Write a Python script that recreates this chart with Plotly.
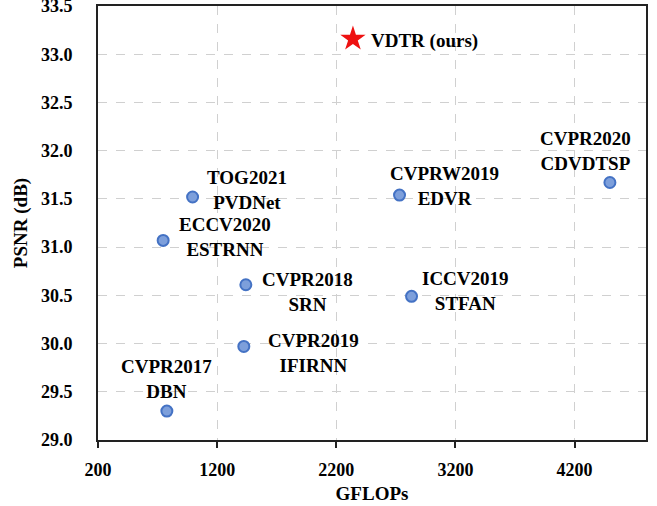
import plotly.graph_objects as go

# ---- data ----
venues = ["CVPR2017", "ECCV2020", "TOG2021", "CVPR2018", "CVPR2019", "ICCV2019", "CVPRW2019", "CVPR2020"]
methods = ["DBN", "ESTRNN", "PVDNet", "SRN", "IFIRNN", "STFAN", "EDVR", "CDVDTSP"]
gflops = [778, 747, 994, 1441, 1424, 2832, 2731, 4497]
psnr = [29.30, 31.07, 31.52, 30.61, 29.97, 30.49, 31.54, 31.67]

ours_name = "VDTR (ours)"
ours_gflops = [2340]
ours_psnr = [33.16]

x_ticks = [200, 1200, 2200, 3200, 4200]
y_ticks = [29.0, 29.5, 30.0, 30.5, 31.0, 31.5, 32.0, 32.5, 33.0, 33.5]

# label offsets in pixels (style, not data)
label_shift = [(0, 32), (62, 3), (54, 7), (62, -7), (70, -7), (54, 5), (45, 9), (-24, 32)]

FONT = "Liberation Serif"

fig = go.Figure()
fig.add_trace(go.Scatter(
    x=gflops, y=psnr, mode="markers",
    marker=dict(size=11, color="#7d9fdb", line=dict(color="#4472c4", width=2)),
    showlegend=False, hoverinfo="skip"))
fig.add_trace(go.Scatter(
    x=ours_gflops, y=ours_psnr, mode="markers",
    marker=dict(symbol="star", size=19, color="#ee1111", line=dict(width=0)),
    showlegend=False, hoverinfo="skip"))

for v, m, x, y, (dx, dy) in zip(venues, methods, gflops, psnr, label_shift):
    fig.add_annotation(x=x, y=y, text=f"{v}<br>{m}", showarrow=False,
                       xshift=dx, yshift=dy, align="center",
                       font=dict(family=FONT, size=19, color="black", weight="bold"))
fig.add_annotation(x=ours_gflops[0], y=ours_psnr[0], text=ours_name, showarrow=False,
                   xshift=72, yshift=-2,
                   font=dict(family=FONT, size=19, color="black", weight="bold"))

axis_font = dict(family=FONT, size=18, color="black", weight="bold")
fig.update_xaxes(range=[200, 4800], tickvals=x_ticks, ticktext=[str(t) for t in x_ticks],
                 showgrid=True, gridcolor="#d0d0d0", griddash="dash", gridwidth=1,
                 showline=True, linecolor="#222", linewidth=2, mirror=True,
                 ticks="outside", ticklen=6, tickcolor="#222", tickwidth=1.5,
                 tickfont=axis_font, ticklabelstandoff=6, zeroline=False, automargin=False,
                 ticklabeloverflow="allow",
                 title=dict(text="GFLOPs", font=dict(family=FONT, size=19, color="black", weight="bold"),
                            standoff=8))
fig.update_yaxes(range=[29.0, 33.5005], tickvals=y_ticks, ticktext=[f"{t:.1f}" for t in y_ticks],
                 showgrid=True, gridcolor="#d0d0d0", griddash="dash", gridwidth=1,
                 showline=True, linecolor="#222", linewidth=2, mirror=True,
                 ticks="", tickfont=axis_font, ticklabelstandoff=20, zeroline=False, automargin=False,
                 ticklabeloverflow="allow",
                 title=dict(text="PSNR (dB)", font=dict(family=FONT, size=19, color="black", weight="bold"),
                            standoff=8))

fig.update_layout(width=657, height=506, margin=dict(l=98, r=11, t=6, b=66),
                  plot_bgcolor="white", paper_bgcolor="white")
fig.write_html("out.html", config={"displayModeBar": False},
               post_script="document.body.style.margin='0';")
